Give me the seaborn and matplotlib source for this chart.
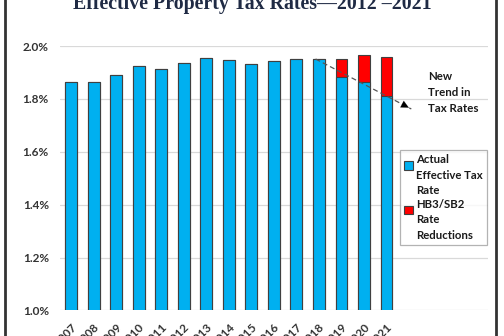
import matplotlib
matplotlib.use("Agg")
import matplotlib.pyplot as plt
import seaborn as sns
import pandas as pd
from matplotlib.patches import Rectangle, Patch
from matplotlib.legend_handler import HandlerBase

years = ["2007", "2008", "2009", "2010", "2011", "2012", "2013", "2014",
         "2015", "2016", "2017", "2018", "2019", "2020", "2021"]
actual = [1.865, 1.864, 1.891, 1.923, 1.914, 1.935, 1.953, 1.947,
          1.932, 1.942, 1.951, 1.951, 1.883, 1.863, 1.810]
reduction = [0, 0, 0, 0, 0, 0, 0, 0, 0, 0, 0, 0, 0.069, 0.103, 0.150]
y_ticks = [1.0, 1.2, 1.4, 1.6, 1.8, 2.0]
title = "Effective Property Tax Rates\u20142012 \u20132021"
trend_start = (10.85, 1.951)
trend_end = (15.1, 1.762)

df = pd.DataFrame({"year": years, "actual": actual,
                   "total": [a + r for a, r in zip(actual, reduction)]})

sns.set_theme(style="white")
plt.rcParams["font.family"] = ["Lato", "DejaVu Sans"]

fig = plt.figure(figsize=(5.04, 3.36), dpi=100)
ax = fig.add_axes([0.119, 0.076, 0.849, 0.787])

blue = "#00B0F0"
red = "#FF0000"
edge = "#404040"
sns.barplot(data=df, x="year", y="total", color=red, width=0.53,
            edgecolor=edge, linewidth=0.8, saturation=1, ax=ax, zorder=2)
sns.barplot(data=df, x="year", y="actual", color=blue, width=0.53,
            edgecolor=edge, linewidth=0.8, saturation=1, ax=ax, zorder=3)

ax.set_ylim(1.0, 2.0)
ax.set_xlim(-0.5, 18.5)
ax.set_yticks(y_ticks)
ax.set_yticklabels([f"{v:.1f}%" for v in y_ticks], fontweight="bold",
                   fontsize=8.5, color="#333333")
ax.set_xticks(range(len(years)))
ax.set_xticklabels(years, rotation=45, ha="right", rotation_mode="anchor",
                   fontweight="bold", fontsize=8.5, color="#333333")
ax.tick_params(axis="x", length=0, pad=8)
ax.tick_params(axis="y", length=0, pad=8)
ax.set_xlabel("")
ax.set_ylabel("")
for s in ax.spines.values():
    s.set_visible(False)
ax.yaxis.grid(True, color="#d9d9d9", linewidth=0.9, zorder=0)
ax.set_axisbelow(True)

# trend arrow
ax.plot([trend_start[0], trend_end[0]], [trend_start[1], trend_end[1]],
        linestyle=(0, (4, 2.5)), color="#555555", linewidth=0.9, zorder=4)
ax.annotate("", xy=trend_end, xytext=(trend_end[0] - 0.3, trend_end[1] + 0.0134),
            arrowprops=dict(arrowstyle="-|>,head_length=0.45,head_width=0.22",
                            color="black", lw=0.1), zorder=5)
ax.text(15.85, 1.905, "New\nTrend in\nTax Rates", fontsize=8.3, fontweight="bold",
        color="#1a1a1a", ha="left", va="top", linespacing=1.55)


class TopSquare(HandlerBase):
    def create_artists(self, legend, orig_handle, xdescent, ydescent,
                       width, height, fontsize, trans):
        s = fontsize * 0.75
        r = Rectangle((-xdescent, -ydescent + height - s - 0.05 * fontsize), s, s,
                      facecolor=orig_handle.get_facecolor(),
                      edgecolor=edge, linewidth=0.8, transform=trans)
        return [r]


handles = [Patch(facecolor=blue, edgecolor=edge, linewidth=0.8,
                 label="Actual\nEffective Tax\nRate"),
           Patch(facecolor=red, edgecolor=edge, linewidth=0.8,
                 label="HB3/SB2\nRate\nReductions")]
leg = ax.legend(handles=handles, loc="upper left", bbox_to_anchor=(0.795, 0.605),
                frameon=True, fancybox=False,
                prop={"weight": "bold", "size": 8.2},
                handler_map={Patch: TopSquare()},
                handlelength=0.75, handleheight=4.0, handletextpad=0.3,
                borderpad=0.35, labelspacing=0.2, borderaxespad=0)
leg.get_frame().set_edgecolor("#a0a0a0")
leg.get_frame().set_linewidth(0.9)
for t in leg.get_texts():
    t.set_linespacing(1.5)
    t.set_color("#1a1a1a")

fig.text(0.5, 1 - 8.5 / 336, title, ha="center", va="baseline",
         fontsize=14.3, fontweight="bold", color="#1F2A44",
         family=["Liberation Serif", "DejaVu Serif"])

fig.patches.append(Rectangle((5 / 504, -0.1), 491 / 504, 1.2,
                             transform=fig.transFigure, fill=False,
                             edgecolor="#333333", linewidth=2.0))

fig.savefig("out.png", dpi=100)
